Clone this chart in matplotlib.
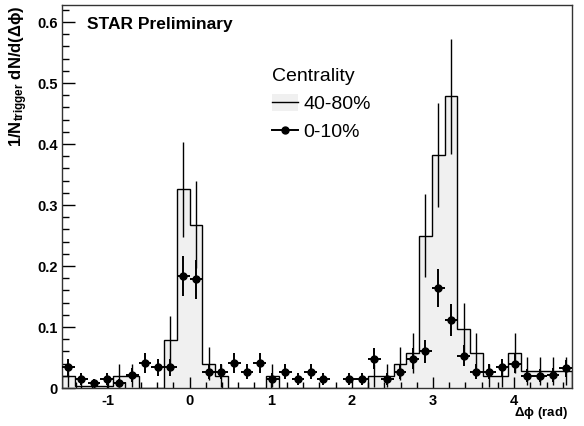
import numpy as np
import matplotlib
matplotlib.use('Agg')
import matplotlib.pyplot as plt
from matplotlib.patches import Patch, Rectangle
from matplotlib.lines import Line2D
from matplotlib.ticker import MultipleLocator, FuncFormatter

plt.rcParams['font.family'] = ['Liberation Sans', 'DejaVu Sans']
plt.rcParams['axes.unicode_minus'] = False
plt.rcParams['mathtext.fontset'] = 'custom'
plt.rcParams['mathtext.rm'] = 'Liberation Sans:bold'
plt.rcParams['mathtext.it'] = 'Liberation Sans:bold'
plt.rcParams['mathtext.bf'] = 'Liberation Sans:bold'
plt.rcParams['mathtext.default'] = 'rm'

# 40 bins in delta phi, -pi/2 .. 3pi/2
n_bins = 40

# 40-80% (histogram)
peri = [0.020, 0.003, 0.003, 0.003, 0.020, 0.020, 0.0, 0.0, 0.079, 0.326,
        0.268, 0.040, 0.020, 0.0, 0.0, 0.0, 0.020, 0.0, 0.0, 0.0,
        0.0, 0.0, 0.0, 0.0, 0.020, 0.020, 0.040, 0.058, 0.250, 0.382,
        0.478, 0.097, 0.058, 0.020, 0.020, 0.058, 0.028, 0.028, 0.028, 0.028]
peri_err = [0.019, 0.0075, 0.0075, 0.0075, 0.019, 0.019, 0.0, 0.0, 0.039, 0.078,
            0.071, 0.027, 0.019, 0.0, 0.0, 0.0, 0.019, 0.0, 0.0, 0.0,
            0.0, 0.0, 0.0, 0.0, 0.019, 0.019, 0.027, 0.033, 0.068, 0.085,
            0.095, 0.043, 0.033, 0.019, 0.019, 0.033, 0.023, 0.023, 0.023, 0.023]

# 0-10% (points)
cent = [0.034, 0.015, 0.008, 0.015, 0.008, 0.021, 0.041, 0.034, 0.034, 0.184,
        0.178, 0.027, 0.027, 0.041, 0.027, 0.041, 0.015, 0.027, 0.015, 0.027,
        0.015, np.nan, 0.015, 0.015, 0.048, 0.015, 0.027, 0.048, 0.060, 0.164,
        0.112, 0.053, 0.027, 0.027, 0.034, 0.040, 0.020, 0.020, 0.021, 0.032]
cent_err = [0.014, 0.0094, 0.0069, 0.0094, 0.0069, 0.011, 0.0156, 0.014, 0.014, 0.033,
            0.0325, 0.0127, 0.0127, 0.0156, 0.0127, 0.0156, 0.0094, 0.0127, 0.0094, 0.0127,
            0.0094, np.nan, 0.0094, 0.0094, 0.0169, 0.0094, 0.0127, 0.0169, 0.0189, 0.031,
            0.026, 0.0177, 0.0127, 0.0127, 0.014, 0.0154, 0.0109, 0.0109, 0.011, 0.0138]

peri = np.array(peri)
peri_err = np.array(peri_err)
cent = np.array(cent)
cent_err = np.array(cent_err)

edges = np.linspace(-np.pi / 2, 3 * np.pi / 2, n_bins + 1)
centers = 0.5 * (edges[:-1] + edges[1:])
width = edges[1] - edges[0]


# legend symbol like ROOT "lf": filled box with a line through it
class FillLineHandler:
    def legend_artist(self, legend, orig_handle, fontsize, handlebox):
        x0, y0 = -handlebox.xdescent, -handlebox.ydescent
        w, h = handlebox.width, handlebox.height
        tr = handlebox.get_transform()
        rect = Rectangle((x0, y0), w, h, facecolor='#f0f0f0', edgecolor='none', transform=tr)
        line = Line2D([x0, x0 + w], [y0 + h / 2, y0 + h / 2], color='black', lw=1, transform=tr)
        handlebox.add_artist(rect)
        handlebox.add_artist(line)
        return rect


fig = plt.figure(figsize=(5.84, 4.26), dpi=100)
ax = fig.add_axes([62 / 584, 1 - 388 / 426, 510 / 584, 383 / 426])

ax.stairs(peri, edges, fill=True, color='#f0f0f0', zorder=1)
ax.stairs(peri, edges, color='black', lw=1.0, zorder=2)
m = peri > 0
ax.errorbar(centers[m], peri[m], yerr=peri_err[m], fmt='none', ecolor='black',
            elinewidth=1.0, capsize=0, zorder=3)
ax.errorbar(centers, cent, xerr=width / 2, yerr=cent_err, fmt='o', color='black',
            ms=5, elinewidth=1.4, capsize=0, zorder=4)

ax.set_xlim(edges[0], edges[-1])
ax.set_ylim(0, 0.628)

ax.xaxis.set_major_locator(MultipleLocator(1))
ax.xaxis.set_minor_locator(MultipleLocator(0.2))
ax.yaxis.set_major_locator(MultipleLocator(0.1))
ax.yaxis.set_minor_locator(MultipleLocator(0.02))
ax.yaxis.set_major_formatter(FuncFormatter(lambda v, p: '0' if abs(v) < 1e-9 else '%.1f' % v))
ax.tick_params(which='both', direction='in', top=False, right=False, width=1)
ax.tick_params(axis='y', which='major', length=9.5, pad=3)
ax.tick_params(axis='y', which='minor', length=5)
ax.tick_params(axis='x', which='major', length=8, pad=4)
ax.tick_params(axis='x', which='minor', length=4.5)
for lab in ax.get_xticklabels() + ax.get_yticklabels():
    lab.set_fontweight('bold')
    lab.set_fontsize(10.5)
for s in ax.spines.values():
    s.set_linewidth(1.0)
    s.set_color('#333333')

fig.text(0.032, 0.988, r'1/N$_{trigger}$ dN/d($\Delta\phi$)', rotation=90,
         ha='center', va='top', fontsize=12, fontweight='bold')
fig.text(568 / 584, 1 - 413 / 426, r'$\Delta\phi$ (rad)', ha='right', va='center',
         fontsize=9.5, fontweight='bold')
ax.text(86.7 / 584, 1 - 25 / 426, 'STAR Preliminary', transform=fig.transFigure,
        ha='left', va='center', fontsize=12.5, fontweight='bold')

h_peri = Patch(facecolor='#f0f0f0')
h_cent = Line2D([], [], color='black', lw=1.4, marker='o', ms=5)
leg = ax.legend([h_peri, h_cent], ['40-80%', '0-10%'], title='Centrality',
                handler_map={Patch: FillLineHandler()},
                loc='upper left', bbox_to_anchor=(272 / 584, 1 - 68 / 426),
                bbox_transform=fig.transFigure, frameon=False, fontsize=14,
                title_fontsize=14, alignment='left', borderpad=0, borderaxespad=0,
                handlelength=1.35, handleheight=1.0, handletextpad=0.25,
                labelspacing=0.45)

fig.savefig('out.png', dpi=100)
